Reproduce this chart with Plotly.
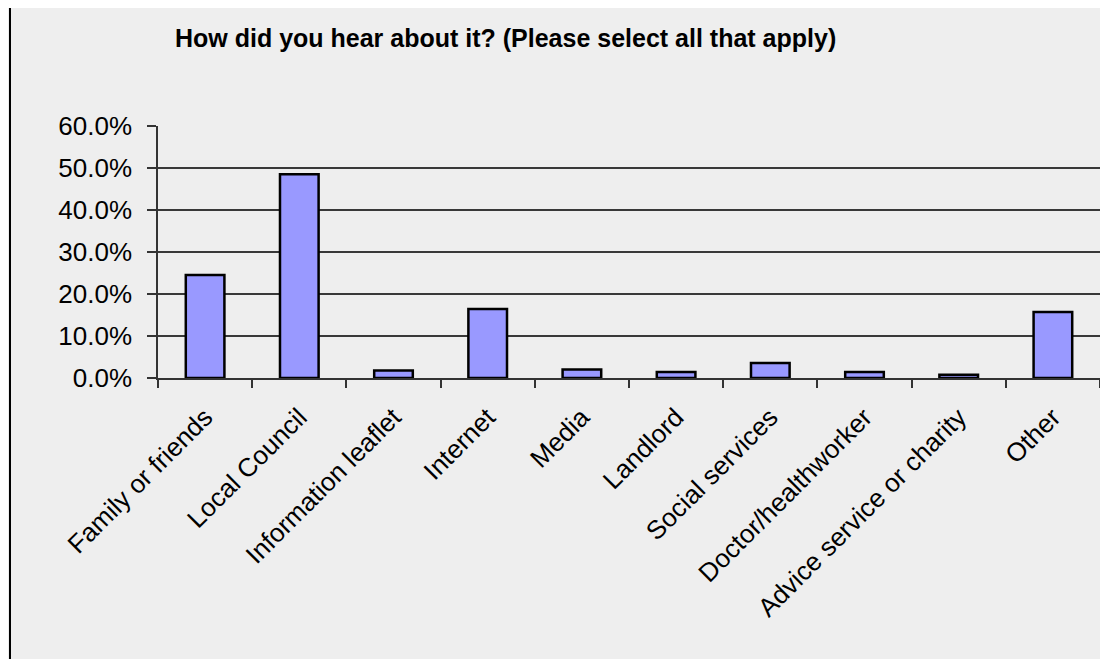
import plotly.graph_objects as go

categories = ["Family or friends", "Local Council", "Information leaflet", "Internet",
              "Media", "Landlord", "Social services", "Doctor/healthworker",
              "Advice service or charity", "Other"]
values = [0.245, 0.485, 0.018, 0.164, 0.020, 0.014, 0.036, 0.014, 0.008, 0.157]
title_text = "How did you hear about it? (Please select all that apply)"

OFF = 8  # browser default body margin
W, H = 1108, 659
L, R, T, B = 158 - OFF, 16, 126 - OFF, 281 + OFF
pw = W - L - R
ph = H - T - B

fig = go.Figure(go.Bar(
    x=categories, y=values,
    marker=dict(color="#9999FF", line=dict(color="black", width=2.5)),
    width=0.41,
))

font_family = "Liberation Sans, Arial, sans-serif"

fig.update_layout(
    width=W, height=H,
    margin=dict(l=L, r=R, t=T, b=B, autoexpand=False),
    paper_bgcolor="#EEEEEE", plot_bgcolor="#EEEEEE",
    showlegend=False,
    font=dict(family=font_family, color="black"),
    title=dict(text="<b>" + title_text + "</b>", x=(175 - OFF) / W, xref="container", xanchor="left",
               y=1 - (38 - OFF) / H, yref="container", yanchor="middle",
               font=dict(size=25, family=font_family, color="black")),
    xaxis=dict(
        tickangle=-45, tickfont=dict(size=26, family=font_family, color="black"),
        showline=True, linecolor="#333333", linewidth=1.5,
        ticks="outside", ticklen=8, tickcolor="#333333", tickwidth=1.5,
        tickson="boundaries", showgrid=False, fixedrange=True,
        ticklabelstandoff=12,
    ),
    yaxis=dict(
        range=[0, 0.6], dtick=0.1, tickformat=".1%",
        tickfont=dict(size=26, family=font_family, color="black"),
        showline=True, linecolor="#333333", linewidth=1.5,
        ticks="outside", ticklen=9, tickcolor="#333333", tickwidth=1.5,
        showgrid=True, gridcolor="#383838", gridwidth=1.5,
        zeroline=False, ticklabelstandoff=10, fixedrange=True,
    ),
    shapes=[dict(type="rect", xref="paper", yref="paper",
                 x0=(10 - OFF - L) / pw, x1=3, y0=-3, y1=(H - B - (6 - OFF)) / ph,
                 line=dict(color="black", width=2), fillcolor="rgba(0,0,0,0)", layer="below")],
)

fig.write_html("out.html")
